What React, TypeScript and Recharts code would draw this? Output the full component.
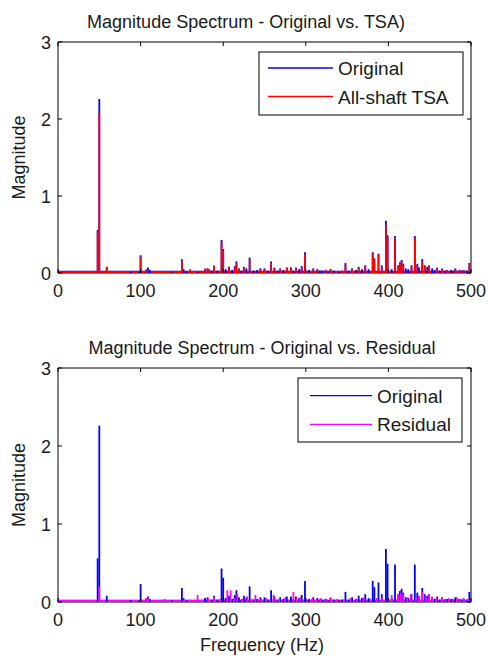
import { ComposedChart, Line, Scatter, XAxis, YAxis, ReferenceArea } from "recharts";

// frequency axis (Hz) and magnitude axis
const freqTicks = [0, 100, 200, 300, 400, 500];
const magTicks = [0, 1, 2, 3];

// original signal spectrum (spike frequency / magnitude)
const origFreq = [
  48, 50, 59, 88, 98, 100, 107, 109, 111, 138, 150, 152, 156, 169, 178, 181, 186, 189, 193, 198,
  200, 203, 207, 211, 214, 216, 219, 222, 225, 228, 232, 237, 241, 245, 250, 254, 258, 262, 266, 269,
  273, 277, 282, 285, 288, 292, 295, 299, 304, 309, 314, 317, 320, 324, 327, 330, 334, 340, 344, 348,
  352, 356, 361, 364, 368, 372, 376, 381, 383, 388, 392, 397, 399, 404, 408, 412, 414, 416, 418, 421,
  424, 428, 432, 435, 437, 441, 444, 447, 449, 453, 456, 459, 462, 465, 468, 471, 476, 479, 481, 486,
  489, 491, 495, 498,
];
const origMag = [
  0.56, 2.26, 0.08, 0.02, 0.02, 0.23, 0.05, 0.07, 0.04, 0.02, 0.18, 0.05, 0.02, 0.02, 0.05, 0.06, 0.03, 0.08, 0.03, 0.43,
  0.31, 0.05, 0.08, 0.04, 0.09, 0.15, 0.06, 0.03, 0.08, 0.06, 0.2, 0.03, 0.04, 0.06, 0.06, 0.03, 0.15, 0.07, 0.03, 0.06,
  0.04, 0.07, 0.07, 0.03, 0.07, 0.05, 0.09, 0.27, 0.04, 0.06, 0.05, 0.03, 0.03, 0.04, 0.02, 0.05, 0.03, 0.02, 0.03, 0.13,
  0.03, 0.06, 0.04, 0.08, 0.05, 0.1, 0.05, 0.27, 0.19, 0.25, 0.1, 0.68, 0.49, 0.05, 0.48, 0.1, 0.14, 0.17, 0.12, 0.06,
  0.05, 0.1, 0.48, 0.12, 0.07, 0.18, 0.1, 0.08, 0.1, 0.06, 0.04, 0.07, 0.03, 0.06, 0.03, 0.04, 0.04, 0.03, 0.06, 0.04,
  0.03, 0.04, 0.03, 0.13,
];

// all-shaft TSA spectrum
const tsaFreq = [
  48, 50, 59, 100, 108, 129, 146, 150, 160, 178, 181, 183, 189, 198, 200, 207, 214, 216, 219, 225,
  232, 245, 250, 258, 262, 269, 277, 282, 288, 295, 299, 309, 314, 324, 330, 344, 348, 356, 364, 372,
  381, 383, 388, 392, 397, 399, 408, 412, 414, 416, 418, 428, 432, 435, 441, 444, 449, 459, 465, 471,
  481, 486, 491, 498,
];
const tsaMag = [
  0.54, 2.07, 0.08, 0.21, 0.05, 0.025, 0.02, 0.16, 0.05, 0.06, 0.06, 0.05, 0.1, 0.4, 0.29, 0.08, 0.08, 0.12, 0.05, 0.07,
  0.18, 0.05, 0.05, 0.13, 0.06, 0.05, 0.07, 0.07, 0.07, 0.08, 0.24, 0.05, 0.04, 0.04, 0.04, 0.03, 0.11, 0.06, 0.07, 0.09,
  0.26, 0.17, 0.24, 0.08, 0.63, 0.46, 0.46, 0.09, 0.13, 0.16, 0.11, 0.09, 0.46, 0.1, 0.15, 0.09, 0.09, 0.06, 0.05, 0.04,
  0.05, 0.04, 0.04, 0.12,
];

// residual spectrum
const resFreq = [
  50, 107, 109, 129, 152, 160, 169, 175, 182, 189, 196, 205, 209, 213, 217, 223, 229, 234, 239, 246,
  252, 261, 268, 275, 285, 289, 293, 300, 308, 313, 318, 325, 330, 338, 346, 354, 362, 370, 378, 386,
  392, 400, 404, 412, 415, 418, 423, 427, 433, 437, 441, 445, 449, 453, 458, 465, 469, 473, 478, 483,
  487, 491, 496,
];
const resMag = [
  0.2, 0.05, 0.05, 0.04, 0.03, 0.03, 0.09, 0.03, 0.05, 0.06, 0.04, 0.15, 0.15, 0.05, 0.1, 0.04, 0.07, 0.04, 0.09, 0.04,
  0.05, 0.09, 0.04, 0.06, 0.13, 0.05, 0.06, 0.04, 0.05, 0.03, 0.05, 0.04, 0.06, 0.04, 0.03, 0.05, 0.04, 0.06, 0.04, 0.05,
  0.06, 0.04, 0.09, 0.1, 0.12, 0.1, 0.06, 0.1, 0.06, 0.08, 0.13, 0.07, 0.1, 0.07, 0.05, 0.06, 0.04, 0.05, 0.04, 0.06,
  0.04, 0.05, 0.04,
];

// noise floor
const floorFreq = [0, 500];
const origFloor = [0.012, 0.012];
const tsaFloor = [0.01, 0.01];
const resFloor = [0.01, 0.01];

const BLUE = "#0000ff";
const RED = "#ff0000";
const MAGENTA = "#ff00ff";
const FONT = "'Liberation Sans', Arial, sans-serif";
const TXT = "#1a1a1a";

const toRows = (f: number[], m: number[]) => f.map((v, i) => ({ f: v, m: m[i] }));

const PLOT_LEFT = 58;
const PLOT_RIGHT = 471;

type Series = { freq: number[]; mag: number[]; floor: number[]; color: string };

function SpectrumPlot({ height, plotTop, plotBottom, series }: {
  height: number; plotTop: number; plotBottom: number; series: Series[];
}) {
  const xTick = ({ x, payload }: any) => (
    <g>
      <line x1={x} x2={x} y1={plotBottom} y2={plotBottom - 4} stroke="#000" />
      <line x1={x} x2={x} y1={plotTop} y2={plotTop + 4} stroke="#000" />
      <text x={x} y={plotBottom + 24} textAnchor="middle" fontSize={18} fontFamily={FONT} fill={TXT}>
        {payload.value}
      </text>
    </g>
  );
  const yTick = ({ y, payload }: any) => (
    <g>
      <line x1={PLOT_LEFT} x2={PLOT_LEFT + 4} y1={y} y2={y} stroke="#000" />
      <line x1={PLOT_RIGHT} x2={PLOT_RIGHT - 4} y1={y} y2={y} stroke="#000" />
      <text x={51} y={y + 6.5} textAnchor="end" fontSize={18} fontFamily={FONT} fill={TXT}>
        {payload.value}
      </text>
    </g>
  );
  const stem = (color: string) => (p: any) => (
    <line x1={p.cx} x2={p.cx} y1={p.cy} y2={plotBottom} stroke={color} strokeWidth={1.8} />
  );
  return (
    <ComposedChart
      width={488}
      height={height}
      margin={{ top: plotTop, right: 488 - PLOT_RIGHT, left: 28, bottom: height - plotBottom - 30 }}
    >
      <XAxis dataKey="f" type="number" domain={[0, 500]} ticks={freqTicks} height={30}
        axisLine={false} tickLine={false} tick={xTick} allowDataOverflow />
      <YAxis dataKey="m" type="number" domain={[0, 3]} ticks={magTicks} width={30}
        axisLine={false} tickLine={false} tick={yTick} allowDataOverflow />
      {series.map((s, i) => [
        <Line key={`fl${i}`} data={toRows(floorFreq, s.floor)} dataKey="m" stroke={s.color}
          strokeWidth={2.5} dot={false} isAnimationActive={false} />,
        <Scatter key={`sc${i}`} data={toRows(s.freq, s.mag)} dataKey="m" fill={s.color}
          shape={stem(s.color)} isAnimationActive={false} />,
      ])}
      <ReferenceArea x1={0} x2={500} y1={0} y2={3} fill="none" stroke="#000" strokeWidth={1} fillOpacity={0} />
    </ComposedChart>
  );
}

function LegendBox({ x, y, w, h, lineX1, lineX2, textX, rows }: any) {
  return (
    <g>
      <rect x={x} y={y} width={w} height={h} fill="#fff" stroke="#000" strokeWidth={1} />
      {rows.map((r: any, i: number) => (
        <g key={i}>
          <line x1={lineX1} x2={lineX2} y1={r.y} y2={r.y} stroke={r.color} strokeWidth={1.3} />
          <text x={textX} y={r.y + 7} fontSize={19} fontFamily={FONT} fill={TXT}>{r.label}</text>
        </g>
      ))}
    </g>
  );
}

export default function App() {
  return (
    <div style={{ position: "absolute", left: 0, top: 0, width: 488, height: 661, background: "#fff" }}>
      <div style={{ position: "absolute", left: 0, top: 0 }}>
        <SpectrumPlot height={330} plotTop={42} plotBottom={273}
          series={[
            { freq: origFreq, mag: origMag, floor: origFloor, color: BLUE },
            { freq: tsaFreq, mag: tsaMag, floor: tsaFloor, color: RED },
          ]} />
      </div>
      <div style={{ position: "absolute", left: 0, top: 330 }}>
        <SpectrumPlot height={331} plotTop={38} plotBottom={272}
          series={[
            { freq: origFreq, mag: origMag, floor: origFloor, color: BLUE },
            { freq: resFreq, mag: resMag, floor: resFloor, color: MAGENTA },
          ]} />
      </div>
      <svg width={488} height={661} style={{ position: "absolute", left: 0, top: 0, pointerEvents: "none" }}>
        <text x={246} y={28} textAnchor="middle" fontSize={18} fontFamily={FONT} fill={TXT}>
          Magnitude Spectrum - Original vs. TSA)
        </text>
        <text x={262} y={354} textAnchor="middle" fontSize={18} fontFamily={FONT} fill={TXT}>
          Magnitude Spectrum - Original vs. Residual
        </text>
        <text transform="translate(25,157.5) rotate(-90)" textAnchor="middle" fontSize={18} fontFamily={FONT} fill={TXT}>
          Magnitude
        </text>
        <text transform="translate(25,485) rotate(-90)" textAnchor="middle" fontSize={18} fontFamily={FONT} fill={TXT}>
          Magnitude
        </text>
        <text x={262} y={651} textAnchor="middle" fontSize={18} fontFamily={FONT} fill={TXT}>
          Frequency (Hz)
        </text>
        <LegendBox x={259} y={52} w={204} h={63} lineX1={268} lineX2={333} textX={338}
          rows={[
            { y: 68, color: BLUE, label: "Original" },
            { y: 96.5, color: RED, label: "All-shaft TSA" },
          ]} />
        <LegendBox x={298} y={378} w={164} h={64} lineX1={310} lineX2={372} textX={377}
          rows={[
            { y: 395.7, color: BLUE, label: "Original" },
            { y: 424.3, color: MAGENTA, label: "Residual" },
          ]} />
      </svg>
    </div>
  );
}
